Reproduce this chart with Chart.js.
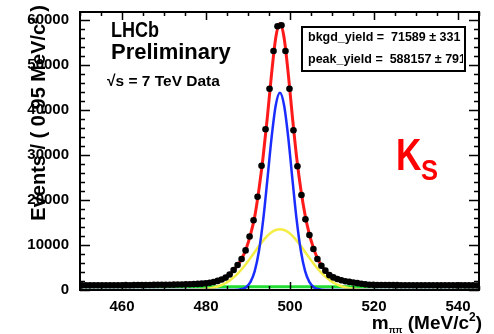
<!DOCTYPE html>
<html lang="en">
<head>
  <meta charset="UTF-8">
  <title>Ks mass fit</title>
  <script src="https://cdn.jsdelivr.net/npm/chart.js"></script>
  <style>
    body {
      margin: 0;
      background: #fff;
    }
    canvas {
      display: block;
    }
  </style>
</head>
<body>

  <canvas id="massChart" width="494" height="334"></canvas>

  <script>
    // bin centres (MeV/c^2), 0.95 MeV bins from 450 to 545
    const binCenters = [
      450.475, 451.425, 452.375, 453.325, 454.275, 455.225, 456.175, 457.125, 458.075, 459.025,
      459.975, 460.925, 461.875, 462.825, 463.775, 464.725, 465.675, 466.625, 467.575, 468.525,
      469.475, 470.425, 471.375, 472.325, 473.275, 474.225, 475.175, 476.125, 477.075, 478.025,
      478.975, 479.925, 480.875, 481.825, 482.775, 483.725, 484.675, 485.625, 486.575, 487.525,
      488.475, 489.425, 490.375, 491.325, 492.275, 493.225, 494.175, 495.125, 496.075, 497.025,
      497.975, 498.925, 499.875, 500.825, 501.775, 502.725, 503.675, 504.625, 505.575, 506.525,
      507.475, 508.425, 509.375, 510.325, 511.275, 512.225, 513.175, 514.125, 515.075, 516.025,
      516.975, 517.925, 518.875, 519.825, 520.775, 521.725, 522.675, 523.625, 524.575, 525.525,
      526.475, 527.425, 528.375, 529.325, 530.275, 531.225, 532.175, 533.125, 534.075, 535.025,
      535.975, 536.925, 537.875, 538.825, 539.775, 540.725, 541.675, 542.625, 543.575, 544.525
    ];
    const binCounts = [
      1030, 1040, 1030, 1050, 1040, 1050, 1060, 1050, 1070, 1060,
      1070, 1080, 1070, 1090, 1100, 1090, 1110, 1120, 1130, 1140,
      1150, 1160, 1180, 1190, 1210, 1230, 1250, 1280, 1310, 1360,
      1410, 1500, 1620, 1780, 2020, 2330, 2750, 3450, 4450, 5550,
      6900, 8800, 11900, 15500, 20700, 27600, 35700, 44700, 53100, 58600,
      58800, 53100, 44700, 35500, 27500, 21100, 15700, 12200, 9100, 6900,
      5400, 4300, 3300, 2800, 2450, 2150, 1950, 1800, 1650, 1520,
      1380, 1250, 1170, 1140, 1120, 1110, 1100, 1090, 1090, 1080,
      1070, 1070, 1060, 1060, 1050, 1050, 1040, 1050, 1040, 1040,
      1030, 1040, 1030, 1030, 1020, 1030, 1020, 1020, 1020, 1010
    ];

    // total fit (red)
    const totalX = [
      450, 455, 460, 465, 470, 473, 475, 477.6, 478.6, 479.6,
      480.6, 481.6, 482.6, 483.6, 484.6, 485.6, 486.6, 487.6, 488.6, 489.6,
      490.6, 491.6, 492.6, 493.6, 494.6, 495.6, 496.6, 497.6, 498.6, 499.6,
      500.6, 501.6, 502.6, 503.6, 504.6, 505.6, 506.6, 507.6, 508.6, 509.6,
      510.6, 511.6, 512.6, 513.6, 514.6, 515.6, 516.6, 517.6, 520, 523,
      527, 532, 538, 545
    ];
    const totalFit = [
      1030, 1050, 1070, 1100, 1150, 1200, 1250, 1340, 1420, 1500,
      1600, 1750, 1980, 2300, 2750, 3450, 4450, 5600, 7100, 9300,
      12300, 16300, 22300, 29600, 38300, 47900, 56000, 59200, 56000, 47900,
      38200, 29300, 22200, 16600, 12400, 9300, 6900, 5300, 4100, 3150,
      2650, 2300, 2020, 1850, 1700, 1550, 1420, 1300, 1150, 1110,
      1080, 1050, 1030, 1020
    ];

    // narrow signal component (blue)
    const narrowX = [
      450, 484.6, 485.6, 486.6, 487.6, 488.6, 489.6, 490.6, 491.6, 492.6,
      493.6, 494.6, 495.6, 496.6, 497.6, 498.6, 499.6, 500.6, 501.6, 502.6,
      503.6, 504.6, 505.6, 506.6, 507.6, 508.6, 509.6, 510.6, 545
    ];
    const narrowFit = [
      0, 0, 0, 15, 65, 220, 680, 1800, 4200, 8600,
      15450, 24400, 33750, 41000, 43800, 41000, 33750, 24400, 15450, 8600,
      4200, 1800, 680, 220, 65, 15, 0, 0, 0
    ];

    // wide signal component (yellow)
    const wideX = [
      450, 470, 477.6, 478.6, 479.6, 480.6, 481.6, 482.6, 483.6, 484.6,
      485.6, 486.6, 487.6, 488.6, 489.6, 490.6, 491.6, 492.6, 493.6, 494.6,
      495.6, 496.6, 497.6, 498.6, 499.6, 500.6, 501.6, 502.6, 503.6, 504.6,
      505.6, 506.6, 507.6, 508.6, 509.6, 510.6, 511.6, 512.6, 513.6, 514.6,
      515.6, 516.6, 517.6, 525, 545
    ];
    const wideFit = [
      0, 20, 74, 120, 200, 315, 485, 725, 1060, 1500,
      2080, 2800, 3680, 4710, 5880, 7140, 8450, 9750, 10960, 12010,
      12820, 13330, 13500, 13330, 12820, 12010, 10960, 9750, 8450, 7140,
      5880, 4710, 3680, 2800, 2080, 1500, 1060, 725, 485, 315,
      200, 120, 74, 20, 0
    ];

    // flat background (green)
    const bkgX = [450, 545];
    const bkgFit = [716, 716];

    const xTickValues = [460, 480, 500, 520, 540];
    const yTickValues = [0, 10000, 20000, 30000, 40000, 50000, 60000];

    const FONT = "'Liberation Sans', Arial, Helvetica, sans-serif";

    function pts(xs, ys) {
      return xs.map((x, i) => ({ x: x, y: ys[i] }));
    }

    // draw a run of text pieces (for sub/superscripts), right aligned at x if align == 'right'
    function drawRuns(c, parts, x, y, align) {
      let total = 0;
      parts.forEach(p => { c.font = p.f; total += c.measureText(p.t).width; });
      let cx = align === 'right' ? x - total : x;
      c.textAlign = 'left';
      c.textBaseline = 'alphabetic';
      parts.forEach(p => {
        c.font = p.f;
        c.fillText(p.t, cx, y + (p.dy || 0));
        cx += c.measureText(p.t).width;
      });
    }

    // ROOT style frame with ticks on the inside of all four sides
    const framePlugin = {
      id: 'frame',
      afterDatasetsDraw(chart) {
        const c = chart.ctx;
        const a = chart.chartArea;
        const xs = chart.scales.x;
        const ys = chart.scales.y;
        c.save();
        c.strokeStyle = '#000';
        c.lineWidth = 2;
        c.strokeRect(a.left, a.top, a.right - a.left, a.bottom - a.top);

        c.lineWidth = 1.5;
        c.beginPath();
        for (let v = 450; v <= 545; v += 5) {
          const px = Math.round(xs.getPixelForValue(v)) + 0.5;
          const len = (v % 20 === 0) ? 8 : 4;
          c.moveTo(px, a.bottom); c.lineTo(px, a.bottom - len);
          c.moveTo(px, a.top); c.lineTo(px, a.top + len);
        }
        for (let v = 0; v <= 61000; v += 2000) {
          const py = Math.round(ys.getPixelForValue(v)) + 0.5;
          const len = (v % 10000 === 0) ? 10 : 5;
          c.moveTo(a.left, py); c.lineTo(a.left + len, py);
          c.moveTo(a.right, py); c.lineTo(a.right - len, py);
        }
        c.stroke();
        c.restore();
      },
      afterDraw(chart) {
        const c = chart.ctx;
        c.save();
        c.fillStyle = '#000';

        // axis titles
        drawRuns(c, [
          { t: 'm', f: 'bold 19px ' + FONT },
          { t: 'ππ', f: 'bold 9px ' + FONT, dy: 4 },
          { t: ' (MeV/c', f: 'bold 19px ' + FONT },
          { t: '2', f: 'bold 12px ' + FONT, dy: -8 },
          { t: ')', f: 'bold 19px ' + FONT }
        ], 482, 329, 'right');

        c.save();
        c.translate(45, 5);
        c.rotate(-Math.PI / 2);
        drawRuns(c, [
          { t: 'Events / ( 0.95 MeV/c', f: 'bold 20px ' + FONT },
          { t: '2', f: 'bold 12px ' + FONT, dy: -8 },
          { t: ' )', f: 'bold 20px ' + FONT }
        ], 0, 0, 'right');
        c.restore();

        // LHCb label
        c.save();
        c.translate(111, 37);
        c.scale(0.82, 1);
        c.font = 'bold 22px ' + FONT;
        c.fillText('LHCb', 0, 0);
        c.restore();
        c.font = 'bold 22px ' + FONT;
        c.fillText('Preliminary', 111, 59);
        c.font = 'bold 15.5px ' + FONT;
        c.fillText('\u221As = 7 TeV Data', 107, 86);

        // yield box
        c.lineWidth = 2;
        c.strokeStyle = '#000';
        c.strokeRect(302, 27, 163, 44);
        c.save();
        c.beginPath();
        c.rect(303, 28, 160, 42);
        c.clip();
        c.font = 'bold 12.5px ' + FONT;
        c.fillText('bkgd_yield =  71589 \u00B1 331', 308, 41);
        c.fillText('peak_yield =  588157 \u00B1 791', 308, 63);
        c.restore();

        // K_S
        c.fillStyle = '#ff0000';
        c.save();
        c.translate(396, 170);
        c.scale(0.8, 1);
        c.font = 'bold 44px ' + FONT;
        c.fillText('K', 0, 0);
        c.restore();
        c.save();
        c.translate(421, 180);
        c.scale(0.85, 1);
        c.font = 'bold 30px ' + FONT;
        c.fillText('S', 0, 0);
        c.restore();

        c.restore();
      }
    };

    const ctx = document.getElementById('massChart').getContext('2d');

    const chart = new Chart(ctx, {
      type: 'scatter',
      data: {
        datasets: [
          {
            label: 'Data',
            data: pts(binCenters, binCounts),
            pointRadius: 3.3,
            pointBackgroundColor: '#000',
            pointBorderWidth: 0,
            showLine: false,
            order: 0
          },
          {
            label: 'Total fit',
            data: pts(totalX, totalFit),
            showLine: true,
            borderColor: '#ff1a1a',
            borderWidth: 3,
            pointRadius: 0,
            cubicInterpolationMode: 'monotone',
            order: 1
          },
          {
            label: 'Narrow peak',
            data: pts(narrowX, narrowFit),
            showLine: true,
            borderColor: '#1a2cff',
            borderWidth: 2.5,
            pointRadius: 0,
            cubicInterpolationMode: 'monotone',
            order: 2
          },
          {
            label: 'Wide peak',
            data: pts(wideX, wideFit),
            showLine: true,
            borderColor: '#f4ee44',
            borderWidth: 2.5,
            pointRadius: 0,
            cubicInterpolationMode: 'monotone',
            order: 3
          },
          {
            label: 'Background',
            data: pts(bkgX, bkgFit),
            showLine: true,
            borderColor: '#22dd33',
            borderWidth: 3,
            pointRadius: 0,
            order: 4
          }
        ]
      },
      options: {
        responsive: false,
        animation: false,
        layout: {
          padding: { top: 10, right: 15, left: 0, bottom: 0 }
        },
        plugins: {
          legend: { display: false },
          tooltip: { enabled: false }
        },
        scales: {
          x: {
            type: 'linear',
            min: 450,
            max: 545,
            afterBuildTicks: s => { s.ticks = xTickValues.map(v => ({ value: v })); },
            afterFit: s => { s.height = 44; },
            grid: { display: false },
            border: { display: false },
            ticks: {
              padding: 0,
              color: '#000',
              callback: v => String(v),
              font: { family: FONT, size: 15, weight: 'bold' }
            }
          },
          y: {
            min: 0,
            max: 61760,
            afterBuildTicks: s => { s.ticks = yTickValues.map(v => ({ value: v })); },
            afterFit: s => { s.width = 80; },
            grid: { display: false },
            border: { display: false },
            ticks: {
              padding: 3,
              color: '#000',
              callback: v => String(v),
              font: { family: FONT, size: 15, weight: 'bold' }
            }
          }
        }
      },
      plugins: [framePlugin]
    });
  </script>

</body>
</html>
